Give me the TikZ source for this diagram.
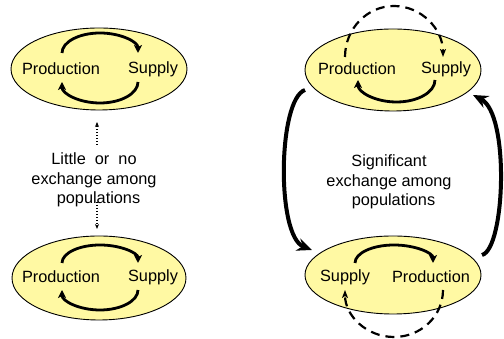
\documentclass[tikz,border=0pt]{standalone}
\usepackage{fontspec}
\setmainfont{Liberation Sans}
\usetikzlibrary{shapes.geometric,arrows.meta}
\definecolor{pale}{RGB}{255,249,163}
\tikzset{
  pop/.style={ellipse, draw=black, line width=0.9pt, fill=pale, inner sep=0pt},
  lbl/.style={inner sep=0pt, font=\fontsize{16.3}{19.5}\selectfont},
  loopar/.style={line width=2.8pt, -{Stealth[length=8pt,width=8pt,inset=2pt]}},
  dasharr/.style={line width=2.2pt, dash pattern=on 9pt off 6pt, -{Stealth[length=8pt,width=6pt,inset=2pt]}},
  dotarr/.style={line width=1.3pt, dash pattern=on 1.3pt off 1.7pt, -{Stealth[length=5pt,width=4pt]}},
  bigarr/.style={line width=4pt, -{Stealth[length=15pt,width=13pt,inset=5pt]}}
}
\begin{document}
\begin{tikzpicture}[x=1pt,y=1pt]
\useasboundingbox (0,0) rectangle (504,339);
% ellipses
\node[pop, minimum width=176pt, minimum height=82pt] (e1) at (99,270) {};
\node[pop, minimum width=174pt, minimum height=84pt] (e2) at (99,61) {};
\node[pop, minimum width=176pt, minimum height=82pt] (e3) at (393,269) {};
\node[pop, minimum width=176pt, minimum height=78pt] (e4) at (393,64) {};
% labels
\node[lbl] (p1) at (61,270) {Production};
\node[lbl] (s1) at (153,270) {Supply};
\node[lbl] (p2) at (61,62) {Production};
\node[lbl] (s2) at (153,62) {Supply};
\node[lbl] (p3) at (357,270) {Production};
\node[lbl] (s3) at (446,270) {Supply};
\node[lbl] (s4) at (345,62) {Supply};
\node[lbl] (p4) at (431,62) {Production};
\node[lbl, align=center] (t1) at (94,159) {Little\ \ or\ \ no\\exchange among\\\ \ populations};
\node[lbl, align=center] (t2) at (389,157) {Significant\\exchange among\\\ \ populations};
% loops inside ellipses
\draw[loopar] (62,286) arc[start angle=180,end angle=0,x radius=38pt,y radius=20pt];
\draw[loopar] (138,257) arc[start angle=0,end angle=-180,x radius=38pt,y radius=21pt];
\draw[loopar] (62,76) arc[start angle=180,end angle=0,x radius=38pt,y radius=18pt];
\draw[loopar] (138,49) arc[start angle=0,end angle=-180,x radius=38pt,y radius=20pt];
\draw[loopar] (435,259) arc[start angle=0,end angle=-180,x radius=38.5pt,y radius=22pt];
\draw[loopar] (355,76) arc[start angle=180,end angle=0,x radius=39pt,y radius=18pt];
% dashed loops
\draw[dasharr] (345,282) arc[start angle=180,end angle=0,x radius=49pt,y radius=51pt];
\draw[dasharr] (443,49) arc[start angle=0,end angle=-180,x radius=49pt,y radius=47pt];
% dotted arrows
\coordinate (d1a) at (97,194);
\coordinate (d1b) at (97,217);
\coordinate (d2a) at (97,137);
\coordinate (d2b) at (97,110);
\draw[dotarr] (d1a) -- (d1b);
\draw[dotarr] (d2a) -- (d2b);
% big arrows
\coordinate (b1a) at (305,249);
\coordinate (b1b) at (312,89);
\coordinate (b2a) at (482,84);
\coordinate (b2b) at (473,244);
\draw[bigarr] (b1a) .. controls (278,240) and (276,103) .. (b1b);
\draw[bigarr] (b2a) .. controls (505,90) and (510,225) .. (b2b);
\end{tikzpicture}
\end{document}
